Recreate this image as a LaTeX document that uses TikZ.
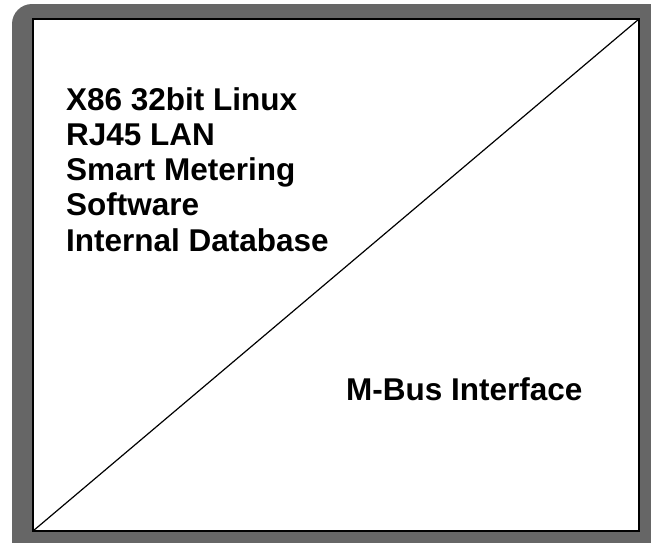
\documentclass[tikz,border=0pt]{standalone}
\usepackage{fontspec}
\setmainfont{Liberation Sans}
\definecolor{framegray}{HTML}{666666}
\tikzset{
  lbl/.style={anchor=base west, inner sep=0pt, font=\bfseries\fontsize{31.5}{35}\selectfont, text=black},
  panel/.style={draw=black, line width=2pt, fill=white},
  frame/.style={fill=framegray, rounded corners=20pt}
}
\begin{document}
\begin{tikzpicture}[x=1pt,y=-1pt]
\useasboundingbox (0,0) rectangle (651,542);
\clip (0,0) rectangle (651,542);
\fill[frame] (12,4) rectangle (672,562);
\draw[panel] (33,19) rectangle (639,531);
\coordinate (bl) at (33,531);
\coordinate (tr) at (639,19);
\draw[line width=1.2pt] (bl) -- (tr);
\node[lbl] (l1) at (66,110) {X86 32bit Linux};
\node[lbl] (l2) at (66,145.25) {RJ45 LAN};
\node[lbl] (l3) at (66,180.5) {Smart Metering};
\node[lbl] (l4) at (66,215.75) {Software};
\node[lbl] (l5) at (66,251) {Internal Database};
\node[lbl] (mbus) at (346,400) {M-Bus Interface};
\end{tikzpicture}
\end{document}
